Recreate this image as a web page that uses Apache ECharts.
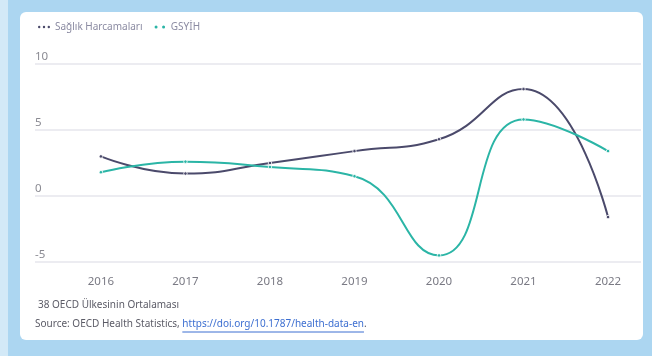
<!DOCTYPE html>
<html>
<head>
<meta charset="utf-8">
<script src="https://cdn.jsdelivr.net/npm/echarts@6/dist/echarts.min.js"></script>
<style>
  html, body { margin: 0; padding: 0; }
  body { width: 652px; height: 356px; background: #acd6f1; position: relative; overflow: hidden; }
  #edge { position: absolute; left: 0; top: 0; width: 8px; height: 356px; background: #d3e9f7; }
  #panel { position: absolute; left: 20px; top: 12px; width: 623px; height: 328px; background: #ffffff; border-radius: 6px; }
  #chart { position: absolute; left: 0; top: 0; width: 652px; height: 356px; }
</style>
</head>
<body>
<div id="edge"></div>
<div id="panel"></div>
<div id="chart"></div>
<script>
// Annual growth, %, average of 38 OECD countries
const years = [2016, 2017, 2018, 2019, 2020, 2021, 2022];
const healthSpending = [3.0, 1.7, 2.5, 3.4, 4.3, 8.1, -1.6];
const gdp = [1.8, 2.6, 2.2, 1.5, -4.5, 5.8, 3.4];
const yTicks = [-5, 0, 5, 10];
const seriesNames = ['Sağlık Harcamaları', 'GSYİH'];
const noteText = '38 OECD Ülkesinin Ortalaması';
const sourcePrefix = 'Source: OECD Health Statistics, ';
const sourceLink = 'https://doi.org/10.1787/health-data-en';

const NAVY = '#4b4a6b';
const TEAL = '#2bb5a6';
const FONT = '"Noto Sans", "Open Sans", sans-serif';

const pairs = (vals) => years.map((y, i) => [y, vals[i]]);

// measure the source prefix so the link underline can be placed under the link text
const ctx = document.createElement('canvas').getContext('2d');
ctx.font = '10px ' + FONT;
const prefixW = ctx.measureText(sourcePrefix).width;
const linkW = ctx.measureText(sourceLink).width;
const srcX = 35, srcY = 325;

const dots3 = 'path://M0,1a1,1 0 1,0 2,0a1,1 0 1,0 -2,0M4,1a1,1 0 1,0 2,0a1,1 0 1,0 -2,0M8,1a1,1 0 1,0 2,0a1,1 0 1,0 -2,0';
const dots2 = 'path://M0,1a1,1 0 1,0 2,0a1,1 0 1,0 -2,0M5,1a1,1 0 1,0 2,0a1,1 0 1,0 -2,0';

const chart = echarts.init(document.getElementById('chart'), null, { renderer: 'canvas' });
chart.setOption({
  animation: false,
  backgroundColor: 'transparent',
  textStyle: { fontFamily: FONT },
  legend: {
    left: 33, top: 17,
    itemWidth: 12, itemHeight: 3, itemGap: 12,
    itemStyle: { borderWidth: 0 },
    textStyle: { color: '#8b8ba2', fontSize: 10, fontFamily: FONT },
    data: [
      { name: seriesNames[0], icon: dots3, itemStyle: { color: NAVY, borderWidth: 0 } },
      { name: seriesNames[1], icon: dots2, itemStyle: { color: TEAL, borderWidth: 0 } }
    ]
  },
  grid: { left: 35, right: 11, top: 64, bottom: 94, containLabel: false },
  xAxis: {
    type: 'value',
    min: 2015.22, max: 2022.39,
    axisLine: { show: false },
    axisTick: { show: false },
    splitLine: { show: false },
    axisLabel: {
      customValues: years,
      formatter: (v) => String(Math.round(v)),
      color: '#7a7a84', fontSize: 11.5, margin: 14, fontFamily: FONT
    }
  },
  yAxis: {
    type: 'value',
    min: yTicks[0], max: yTicks[yTicks.length - 1], interval: 5,
    axisLine: { show: false },
    axisTick: { show: false },
    axisLabel: {
      inside: true, margin: 0,
      verticalAlign: 'bottom', padding: [0, 0, 1, 0],
      color: '#8a8a92', fontSize: 11.5, fontFamily: FONT
    },
    splitLine: { lineStyle: { color: '#e6e6ec', width: 1.5 } }
  },
  series: [
    {
      name: seriesNames[0], type: 'line', smooth: 0.5,
      data: pairs(healthSpending),
      symbol: 'circle', symbolSize: 3.5,
      itemStyle: { color: NAVY, borderColor: '#ffffff', borderWidth: 0.8 },
      lineStyle: { color: NAVY, width: 2 }
    },
    {
      name: seriesNames[1], type: 'line', smooth: 0.5,
      data: pairs(gdp),
      symbol: 'circle', symbolSize: 3.5,
      itemStyle: { color: TEAL, borderColor: '#ffffff', borderWidth: 0.8 },
      lineStyle: { color: TEAL, width: 2 }
    }
  ],
  graphic: [
    {
      type: 'text', left: 38, top: 300,
      style: { text: noteText, fill: '#5b5b66', font: '10px ' + FONT }
    },
    {
      type: 'text', left: srcX, top: srcY - 6,
      style: {
        text: '{a|' + sourcePrefix + '}{b|' + sourceLink + '}{a|.}',
        font: '10px ' + FONT,
        rich: {
          a: { fill: '#5b5b66', fontSize: 10, fontFamily: FONT },
          b: { fill: '#3d6fd1', fontSize: 10, fontFamily: FONT }
        }
      }
    },
    {
      type: 'line',
      shape: { x1: srcX + prefixW, y1: srcY + 7, x2: srcX + prefixW + linkW, y2: srcY + 7 },
      style: { stroke: '#3d6fd1', lineWidth: 1 }
    }
  ]
});
</script>
</body>
</html>
